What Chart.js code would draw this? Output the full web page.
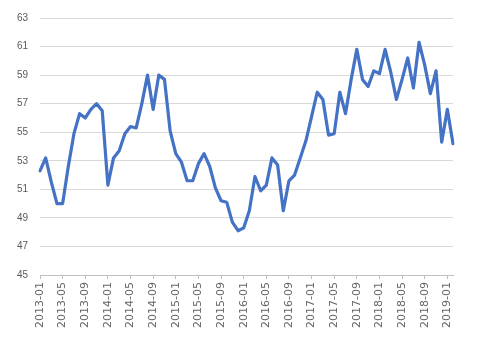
<!DOCTYPE html>
<html>
<head>
<meta charset="utf-8">
<script src="https://cdn.jsdelivr.net/npm/chart.js@4"></script>
<style>
  html, body { margin: 0; padding: 0; background: #fff; }
  #wrap { width: 482px; height: 343px; }
</style>
</head>
<body>
<div id="wrap"><canvas id="chart" width="482" height="343"></canvas></div>
<script>
// months, 2013-01 .. 2019-02
let months = [
  '2013-01','2013-02','2013-03','2013-04','2013-05','2013-06','2013-07','2013-08','2013-09','2013-10','2013-11','2013-12',
  '2014-01','2014-02','2014-03','2014-04','2014-05','2014-06','2014-07','2014-08','2014-09','2014-10','2014-11','2014-12',
  '2015-01','2015-02','2015-03','2015-04','2015-05','2015-06','2015-07','2015-08','2015-09','2015-10','2015-11','2015-12',
  '2016-01','2016-02','2016-03','2016-04','2016-05','2016-06','2016-07','2016-08','2016-09','2016-10','2016-11','2016-12',
  '2017-01','2017-02','2017-03','2017-04','2017-05','2017-06','2017-07','2017-08','2017-09','2017-10','2017-11','2017-12',
  '2018-01','2018-02','2018-03','2018-04','2018-05','2018-06','2018-07','2018-08','2018-09','2018-10','2018-11','2018-12',
  '2019-01','2019-02'
]

let values = [
  52.3, 53.2, 51.5, 50.0, 50.0, 52.6, 54.9, 56.3, 56.0, 56.6, 57.0, 56.5,
  51.3, 53.2, 53.7, 54.9, 55.4, 55.3, 57.0, 59.0, 56.6, 59.0, 58.7, 55.1,
  53.5, 52.9, 51.6, 51.6, 52.8, 53.5, 52.6, 51.1, 50.2, 50.1, 48.7, 48.1,
  48.3, 49.5, 51.9, 50.9, 51.3, 53.2, 52.7, 49.5, 51.6, 52.0, 53.2, 54.4,
  56.1, 57.8, 57.3, 54.8, 54.9, 57.8, 56.3, 58.7, 60.8, 58.7, 58.2, 59.3,
  59.1, 60.8, 59.2, 57.3, 58.7, 60.2, 58.1, 61.3, 59.7, 57.7, 59.3, 54.3,
  56.6, 54.2
]

let yMin = 45, yMax = 63, yStep = 2
let labelEvery = 4

new Chart(document.getElementById('chart'), {
  type: 'line',
  data: {
    labels: months,
    datasets: [{
      data: values,
      borderColor: '#4472C4',
      borderWidth: 3.2,
      pointRadius: 0,
      tension: 0,
      fill: false,
      borderJoinStyle: 'round',
      borderCapStyle: 'round'
    }]
  },
  options: {
    responsive: false,
    animation: false,
    devicePixelRatio: 1,
    layout: { padding: { top: 12, right: 29, left: 0, bottom: 0 } },
    plugins: { legend: { display: false }, tooltip: { enabled: false } },
    scales: {
      x: {
        offset: false,
        grid: {
          drawOnChartArea: false,
          drawTicks: true,
          tickLength: 4,
          color: ctx => (ctx.index % labelEvery === 0 ? '#bfbfbf' : 'rgba(0,0,0,0)')
        },
        border: { display: true, color: '#bfbfbf', width: 1 },
        ticks: {
          autoSkip: false,
          maxRotation: 90,
          minRotation: 90,
          padding: 3,
          color: '#666666',
          font: { family: 'DejaVu Sans', size: 11 },
          callback: (val, idx) => (idx % labelEvery === 0 ? months[idx] : '')
        },
        afterFit: s => { s.height = 68 }
      },
      y: {
        min: yMin,
        max: yMax,
        grid: { color: '#d9d9d9', drawTicks: false },
        border: { display: false },
        ticks: {
          stepSize: yStep,
          padding: 12,
          color: '#595959',
          font: { family: 'Liberation Sans', size: 10 }
        },
        afterFit: s => { s.width = 40 }
      }
    }
  }
});
</script>
</body>
</html>
